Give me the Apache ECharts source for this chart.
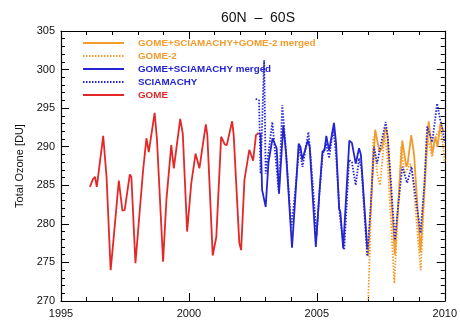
<!DOCTYPE html>
<html>
<head>
<meta charset="utf-8">
<script src="https://cdn.jsdelivr.net/npm/echarts@6/dist/echarts.min.js"></script>
<style>
  html, body { margin: 0; padding: 0; background: #fff; }
  #main { width: 460px; height: 322px; }
</style>
</head>
<body>
<div id="main"></div>
<script>
// values (decimal year, total ozone in DU)
const gomeYears = [1996.13, 1996.25, 1996.33, 1996.40, 1996.65, 1996.78, 1996.94, 1997.04, 1997.26, 1997.40, 1997.49, 1997.69, 1997.75, 1997.91, 1998.08, 1998.21, 1998.34, 1998.43, 1998.66, 1998.75, 1998.99, 1999.12, 1999.31, 1999.41, 1999.66, 1999.76, 1999.93, 2000.09, 2000.26, 2000.33, 2000.41, 2000.66, 2000.72, 2000.93, 2001.07, 2001.26, 2001.40, 2001.48, 2001.69, 2001.75, 2001.97, 2002.04, 2002.17, 2002.36, 2002.51, 2002.62, 2002.72];
const gomeValues = [284.8, 285.8, 286.1, 284.8, 291.4, 286.1, 274.0, 277.5, 285.6, 281.7, 281.8, 286.4, 286.1, 274.9, 281.8, 287.0, 291.1, 289.3, 294.4, 291.0, 275.1, 283.1, 290.2, 287.2, 293.6, 291.7, 279.0, 285.2, 289.1, 289.3, 287.2, 292.9, 291.5, 275.9, 278.3, 291.3, 290.3, 290.2, 293.3, 291.5, 277.5, 276.6, 285.7, 289.6, 288.2, 291.5, 291.8];

const gsMergedYears = [2002.72, 2002.80, 2002.86, 2003.00, 2003.11, 2003.27, 2003.43, 2003.52, 2003.69, 2003.80, 2004.03, 2004.15, 2004.29, 2004.36, 2004.43, 2004.65, 2004.72, 2004.96, 2005.10, 2005.22, 2005.30, 2005.37, 2005.48, 2005.67, 2005.75, 2005.87, 2005.92, 2006.03, 2006.27, 2006.37, 2006.52, 2006.65, 2006.72, 2006.97];
const gsMergedValues = [291.7, 291.7, 284.4, 282.2, 288.0, 291.1, 289.8, 283.9, 292.8, 289.0, 276.9, 283.0, 290.4, 290.0, 288.3, 290.8, 290.0, 277.0, 284.0, 289.4, 289.5, 291.4, 289.5, 293.1, 290.5, 282.0, 281.5, 276.8, 290.8, 290.5, 287.8, 289.8, 289.0, 276.8];

const sciaYears = [2002.61, 2002.74, 2002.80, 2002.94, 2003.00, 2003.10, 2003.26, 2003.52, 2003.65, 2003.78, 2004.00, 2004.15, 2004.31, 2004.44, 2004.67, 2004.75, 2004.99, 2005.10, 2005.22, 2005.35, 2005.48, 2005.64, 2005.75, 2005.90, 2006.07, 2006.26, 2006.37, 2006.52, 2006.65, 2006.75, 2006.97, 2007.10, 2007.23, 2007.36, 2007.45, 2007.69, 2007.78, 2008.05, 2008.20, 2008.34, 2008.53, 2008.70, 2008.80, 2009.05, 2009.20, 2009.31, 2009.51, 2009.70, 2009.83, 2009.92, 2010.00];
const sciaValues = [296.2, 296.0, 286.5, 301.2, 286.5, 289.0, 293.2, 283.9, 295.4, 290.0, 279.5, 284.0, 290.0, 287.4, 291.9, 289.0, 278.5, 284.0, 288.8, 290.5, 288.5, 292.4, 289.0, 281.0, 276.6, 288.3, 288.0, 285.0, 288.5, 287.0, 275.8, 282.0, 290.0, 287.8, 289.5, 293.2, 291.0, 277.9, 283.0, 287.4, 285.3, 287.4, 285.0, 278.8, 285.0, 292.6, 290.6, 295.6, 293.4, 292.1, 290.5];

const gome2Years = [2007.01, 2007.21, 2007.36, 2007.47, 2007.65, 2007.75, 2008.03, 2008.30, 2008.43, 2008.66, 2008.75, 2009.06, 2009.31, 2009.51, 2009.60, 2009.83, 2009.92, 2010.00];
const gome2Values = [270.2, 291.3, 286.5, 285.0, 291.5, 289.0, 272.3, 290.0, 286.5, 287.8, 286.0, 274.0, 291.3, 288.7, 291.0, 292.4, 290.5, 288.0];

const allMergedYears = [2007.00, 2007.28, 2007.45, 2007.55, 2007.69, 2007.76, 2008.05, 2008.34, 2008.50, 2008.55, 2008.69, 2008.80, 2009.05, 2009.37, 2009.51, 2009.64, 2009.72, 2009.83, 2009.96];
const allMergedValues = [275.8, 292.2, 289.3, 289.8, 292.5, 291.5, 276.0, 290.8, 287.4, 287.8, 291.5, 289.0, 276.3, 293.3, 289.1, 291.3, 290.0, 293.0, 292.0];

const seriesNames = ["GOME+SCIAMACHY+GOME-2 merged", "GOME-2", "GOME+SCIAMACHY merged", "SCIAMACHY", "GOME"];

const ORANGE = "#f39b2c";
const BLUE = "#2424d2";
const RED = "#e42828";

const pairs = (xs, ys) => xs.map((x, i) => [x, ys[i]]);

const chart = echarts.init(document.getElementById("main"));

const lineSeries = (name, xs, ys, color, dotted) => ({
  name: name,
  type: "line",
  data: pairs(xs, ys),
  symbol: "none",
  smooth: false,
  clip: true,
  lineStyle: { color: color, width: 1.8, type: dotted ? [1.5, 1.5] : "solid" },
  itemStyle: { color: color },
  animation: false,
});

const tickStyle = { inside: true, length: 8, lineStyle: { color: "#000", width: 1 } };
const minorStyle = { show: true, length: 4, lineStyle: { color: "#000", width: 1 } };
const font = "Liberation Sans, sans-serif";

const option = {
  animation: false,
  title: {
    text: "60N  \u2013  60S",
    left: 253,
    textAlign: "center",
    top: 6,
    textStyle: { fontSize: 14, fontWeight: "normal", color: "#111", fontFamily: font },
  },
  grid: { left: 61, right: 14, top: 31, bottom: 21 },
  legend: {
    orient: "vertical",
    left: 82,
    top: 38,
    padding: 0,
    itemWidth: 41,
    itemHeight: 12,
    itemGap: 3,
    itemStyle: { opacity: 0 },
    data: [
      { name: seriesNames[0], textStyle: { color: ORANGE } },
      { name: seriesNames[1], textStyle: { color: ORANGE } },
      { name: seriesNames[2], textStyle: { color: BLUE } },
      { name: seriesNames[3], textStyle: { color: BLUE } },
      { name: seriesNames[4], textStyle: { color: RED } },
    ],
    textStyle: { fontSize: 9.8, fontWeight: "bold", fontFamily: font, padding: [0, 0, 0, 9] },
  },
  xAxis: [
    {
      type: "value",
      min: 1995,
      max: 2010,
      interval: 5,
      axisLine: { lineStyle: { color: "#000", width: 1.2 } },
      axisTick: tickStyle,
      minorTick: Object.assign({ splitNumber: 5 }, minorStyle),
      splitLine: { show: false },
      axisLabel: { color: "#111", fontSize: 11, margin: 7, fontFamily: font, formatter: (v) => String(v) },
    },
    {
      type: "value",
      position: "top",
      min: 1995,
      max: 2010,
      interval: 5,
      axisLine: { lineStyle: { color: "#000", width: 1.2 } },
      axisTick: tickStyle,
      minorTick: Object.assign({ splitNumber: 5 }, minorStyle),
      splitLine: { show: false },
      axisLabel: { show: false },
    },
  ],
  yAxis: [
    {
      type: "value",
      min: 270,
      max: 305,
      interval: 5,
      name: "Total Ozone [DU]",
      nameLocation: "middle",
      nameGap: 33,
      nameTextStyle: { fontSize: 11, color: "#111", fontFamily: font },
      axisLine: { show: true, lineStyle: { color: "#000", width: 1.2 } },
      axisTick: tickStyle,
      minorTick: Object.assign({ splitNumber: 5 }, minorStyle),
      splitLine: { show: false },
      axisLabel: { color: "#111", fontSize: 11, margin: 6, fontFamily: font },
    },
    {
      type: "value",
      position: "right",
      min: 270,
      max: 305,
      interval: 5,
      axisLine: { show: true, lineStyle: { color: "#000", width: 1.2 } },
      axisTick: tickStyle,
      minorTick: Object.assign({ splitNumber: 5 }, minorStyle),
      splitLine: { show: false },
      axisLabel: { show: false },
    },
  ],
  series: [
    lineSeries(seriesNames[4], gomeYears, gomeValues, RED, false),
    lineSeries(seriesNames[2], gsMergedYears, gsMergedValues, BLUE, false),
    lineSeries(seriesNames[1], gome2Years, gome2Values, ORANGE, true),
    lineSeries(seriesNames[0], allMergedYears, allMergedValues, ORANGE, false),
    lineSeries(seriesNames[3], sciaYears, sciaValues, BLUE, true),
  ],
};

chart.setOption(option);
</script>
</body>
</html>
